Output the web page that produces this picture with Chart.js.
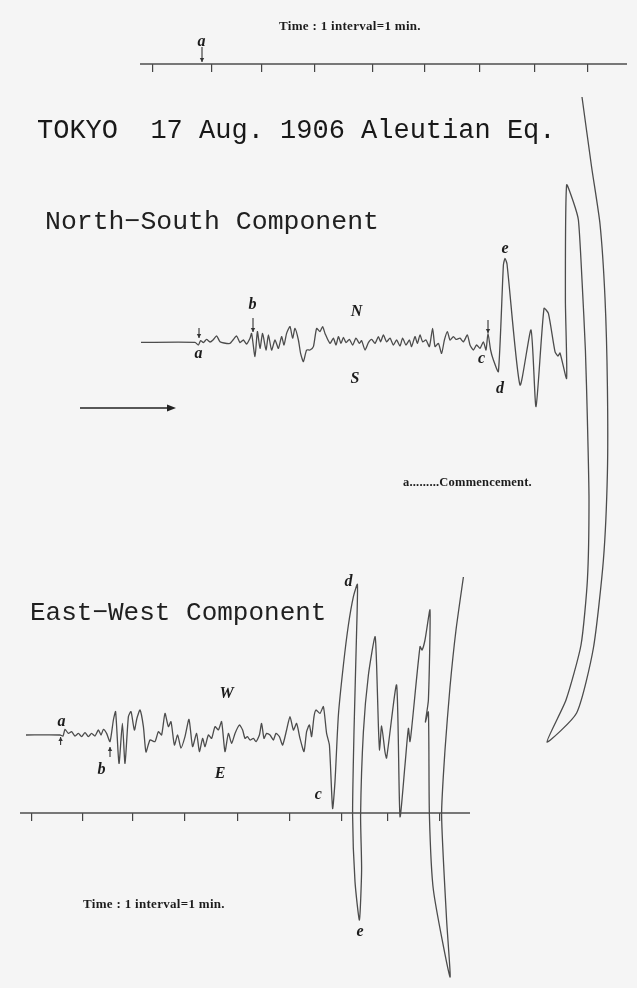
<!DOCTYPE html>
<html>
<head>
<meta charset="utf-8">
<title>Tokyo seismogram, 17 Aug. 1906 Aleutian earthquake</title>
<style>
  html, body { margin: 0; padding: 0; background: #f5f5f5; }
  #wrap { position: relative; width: 637px; height: 988px; }
  canvas { display: block; }
</style>
<script src="https://cdn.jsdelivr.net/npm/chart.js@4.4.1/dist/chart.umd.min.js"></script>
</head>
<body>
<div id="wrap"><canvas id="seismo" width="637" height="988"></canvas></div>
<script>
// Record distance along the drum (mm) and pen deflection (mm, + = N / W).

// North-South component
const NS_T = [
  -6, 21, 22.7, 23.8, 25.2, 26.8, 28.5, 30, 31.8, 33.5,
  35.5, 38.5, 40, 41.8, 43.5, 45.2, 46.8, 48.5, 49.3, 51,
  52.2, 53.5, 54.8, 56.5, 57.7, 59.3, 61, 62.7, 64.3, 65.5,
  66.8, 68.5, 69.8, 71, 72.7, 73.8, 75.2, 76.8, 78.5, 80.2,
  81.8, 83.5, 84.8, 86, 88.5, 90.2, 91.5, 92.7, 94, 95.2,
  96.5, 98.2, 99.8, 101.5, 103.2, 104.3, 106, 107.7, 109.3, 111,
  112.7, 113.8, 115.2, 116.8, 118.5, 120.2, 121.8, 123.5, 124.8, 126.5,
  128.2, 129.3, 131, 132.2, 133.5, 134.8, 136.5, 138.2, 139.8, 141,
  142.7, 144.3, 145.7, 147.2, 148.5, 150.2, 151.5, 153.5, 155.2, 157.2,
  158.5, 160.2, 161.8, 163.5, 165.2, 166.5, 167.5, 168.8, 170.2, 172.7,
  175.2, 176, 177, 183.5, 189, 191.5, 195.5, 197.7, 201, 202.5,
  203.5, 206.8, 206.2, 206.8, 210.2, 212.7, 214.5, 216.2, 217.2, 218,
  217.2, 214, 206.5, 197, 211.8, 220.2, 225.2, 227.2, 227.2, 226,
  223.5, 219.3, 214.5
];
const NS_D = [
  0.3, 0.3, -1, 1.2, 0.2, 1.8, 0.5, 1.5, 3.6, 0.6,
  0, -0.2, 1.5, 3.5, 0.2, 1.5, -0.5, 2.4, 4.8, -6.8,
  5.7, -2.7, 4.8, -3.5, 4, -3.5, 1.5, -2.7, 3.2, -1,
  4.8, 8.2, 2.4, 7.3, 1.5, -5.2, -9.3, -3.5, -3.5, -1.8,
  7.3, 5.7, 8.2, 4.8, -0.2, 2.4, -1, 3.2, -0.2, 2.8,
  0.2, 1.8, -1, 2.4, -0.2, 1.2, -3.5, 0.2, 1.8, -0.2,
  3.2, 0.6, 4, 0.6, 2.4, -1, 1.5, -1.5, 2.4, -1,
  1.5, -1.8, 3.2, -0.2, 4, 0.6, 1.5, -1.8, 7.3, -1.8,
  -0.2, -5.2, 1.5, 5.7, 1.5, 3.2, 1.8, 2.4, 0.6, 4,
  -1, -3.5, -1, -2.7, 0.6, -3.5, 4.8, -3.5, -8.5, -14.3,
  39, 42.3, 39.5, -21, 6.5, -31.8, 17.3, 14.8, -4.3, -6.5,
  -5, -17.7, 21.5, 79, 70.5, 61.5, 31.5, -3.5, -38.5, -78.5,
  -118.5, -151, -178.5, -199.5, -185, -152.5, -108.5, -65, -21.5, 22.5,
  59.5, 88, 123
];

// East-West component
const EW_T = [
  -3, 14, 15.5, 16.5, 18.2, 19.8, 21.5, 23.2, 24.8, 26.5,
  28.2, 29.8, 31.5, 33.2, 34.5, 35.7, 37.3, 39, 40.7, 41.8,
  43.5, 45.2, 46.5, 48.2, 49.5, 51.2, 52.5, 54, 55.7, 57,
  59, 61.5, 63.2, 64.8, 66.5, 68.2, 69.5, 71.2, 72.8, 74.5,
  76.5, 78.5, 80.3, 82.3, 83.7, 85.3, 86.5, 88.2, 89.8, 91.5,
  93.2, 94.8, 96.5, 98.2, 99.8, 101.5, 103.7, 105.3, 106.5, 107.7,
  109, 110.7, 112, 113.7, 114.8, 116, 117.3, 119, 120.7, 122,
  123.7, 125.3, 127.3, 129, 130.7, 132.3, 134, 136, 137.3, 138.7,
  139.8, 141, 142, 144, 145.7, 147.3, 148.7, 150.3, 151.5, 153.2,
  155.7, 158.2, 160.7, 162.7, 162.3, 161, 160.3, 161.5, 163.7, 164.8,
  164.3, 165.7, 168.2, 171.5, 172.3, 173.2, 173.8, 174.8, 176.5, 177.3,
  182.3, 184, 186.5, 188.2, 189, 190, 194, 195, 196.5, 199,
  198.2, 196.7, 198.2, 198.7, 200.7, 209, 207.3, 204.8, 206.5, 209,
  212, 215.7
];
const EW_D = [
  0, 0, -0.5, 2.8, 0.8, 1.7, -0.5, 0.8, -0.8, 1.2,
  -0.8, 0.8, -0.5, 2.5, 0, 2.8, 0.8, -3.3, 7.5, 11.7,
  -14.2, 5.8, -14.2, 9.2, 11.7, 2.5, 8.5, 12.5, 4.2, -8.5,
  -2.5, -3.3, 1.7, 0, 10.8, 4.2, 6.7, -5, 0, -6.5,
  -0.8, 7.8, -5.8, 0.8, -8.3, -1.7, -5.8, 0, -1.7, 4.2,
  2.5, 6.7, -8.3, 0.8, -4.2, 0.8, 5, 2.5, -1.7, -0.8,
  -2.5, -1.7, -3.3, 0, 5.8, -1.7, 0.8, 0, -2.5, 0.8,
  -0.8, -5, 2.5, 9.2, 2.5, 5.8, -1.7, -8.3, 1.7, 5,
  -0.8, 9.2, 12.5, 10.8, 14.2, 0.8, -5, -36.7, -23.3, 10,
  35, 55, 69.2, 75.3, 51.7, 1.7, -40, -73.3, -92.5, -67.5,
  -40, 1.7, 30, 49.2, 35, 4.2, -7.5, 4.5, -8.5, -11.5,
  25, -40.8, -15, 3.3, -3.3, 5, 44.2, 42.5, 47.5, 62.5,
  17.5, 6.5, 11.5, -40, -77.5, -121, -92.5, -40, -7.5, 24,
  52.5, 79
];

// Minute marks on the two time bases (mm along the record)
const NS_MINUTE_MARKS = [0, 29.5, 54.5, 81, 110, 136, 163.5, 191, 217.5];
const EW_MINUTE_MARKS = [0, 25.5, 50.5, 76.5, 103, 129, 155, 178, 204];

// Extent and level of the time-base lines
const NS_BASE_T = [-6.5, 237];
const NS_BASE_LEVEL = 139.5;
const EW_BASE_T = [-6, 219];
const EW_BASE_LEVEL = -39;

const INK = '#4c4c4c';
const TEXT = '#1c1c1c';

const pts = (ts, ds) => ts.map((t, i) => ({ x: t, y: ds[i] }));

// Labels, phase letters and arrows, placed in record coordinates
const LABELS = [
  { on: 'NS', t: -58, d: 102.5, text: 'TOKYO  17 Aug. 1906 Aleutian Eq.', font: '27px "Liberation Mono"', align: 'left', base: 'alphabetic', color: '#181818' },
  { on: 'NS', t: -54, d: 57, text: 'North\u2212South Component', font: '26.5px "Liberation Mono"', align: 'left', base: 'alphabetic', color: '#202020' },
  { on: 'EW', t: -1, d: 57.5, text: 'East\u2212West Component', font: '26px "Liberation Mono"', align: 'left', base: 'alphabetic', color: '#202020' },
  { on: 'NS', t: 98.5, d: 158, text: 'Time : 1 interval=1 min.', font: 'bold 13px "Liberation Serif"', align: 'center', base: 'middle', spacing: '0.3px' },
  { on: 'EW', t: 61, d: -85, text: 'Time : 1 interval=1 min.', font: 'bold 13px "Liberation Serif"', align: 'center', base: 'middle', spacing: '0.3px' },
  { on: 'NS', t: 125, d: -70, text: 'a.........Commencement.', font: 'bold 12.5px "Liberation Serif"', align: 'left', base: 'middle', spacing: '0.2px' },
  { on: 'NS', t: 24.3, d: 150.7, text: 'a', letter: true },
  { on: 'NS', t: 22.7, d: -5.2, text: 'a', letter: true },
  { on: 'NS', t: 49.8, d: 19, text: 'b', letter: true },
  { on: 'NS', t: 101.8, d: 15.7, text: 'N', letter: true },
  { on: 'NS', t: 101, d: -17.7, text: 'S', letter: true },
  { on: 'NS', t: 164.3, d: -7.7, text: 'c', letter: true },
  { on: 'NS', t: 173.5, d: -22.7, text: 'd', letter: true },
  { on: 'NS', t: 176, d: 47.3, text: 'e', letter: true },
  { on: 'EW', t: 14.8, d: 6.7, text: 'a', letter: true },
  { on: 'EW', t: 34.8, d: -17.5, text: 'b', letter: true },
  { on: 'EW', t: 97.3, d: 20.8, text: 'W', letter: true },
  { on: 'EW', t: 94, d: -19.2, text: 'E', letter: true },
  { on: 'EW', t: 143.2, d: -30, text: 'c', letter: true },
  { on: 'EW', t: 158.2, d: 76.7, text: 'd', letter: true },
  { on: 'EW', t: 164, d: -98.3, text: 'e', letter: true }
];
const ARROWS = [
  { on: 'NS', t: 24.5, from: 148, to: 140.5, head: 4 },
  { on: 'NS', t: 23, from: 7.5, to: 2.5, head: 4 },
  { on: 'NS', t: 50, from: 12.5, to: 5.5, head: 4 },
  { on: 'NS', t: 167.5, from: 11.5, to: 5, head: 4 },
  { on: 'EW', t: 14.3, from: -5, to: -1, head: 4 },
  { on: 'EW', t: 39, from: -11, to: -6, head: 4 }
];
const DIRECTION_ARROW = { on: 'NS', from: -36.5, to: 11.5, d: -32.5 };

const annotate = {
  id: 'annotate',
  afterDatasetsDraw(chart) {
    const { ctx, scales } = chart;
    const px = (on, t, d) => on === 'NS'
      ? [scales.tNS.getPixelForValue(t), scales.dNS.getPixelForValue(d)]
      : [scales.tEW.getPixelForValue(t), scales.dEW.getPixelForValue(d)];
    ctx.save();
    LABELS.forEach(l => {
      const [x, y] = px(l.on, l.t, l.d);
      ctx.fillStyle = l.color || TEXT;
      ctx.letterSpacing = l.spacing || '0px';
      if (l.letter) {
        ctx.font = 'bold italic 16px "Liberation Serif"';
        ctx.textAlign = 'center';
        ctx.textBaseline = 'middle';
      } else {
        ctx.font = l.font;
        ctx.textAlign = l.align;
        ctx.textBaseline = l.base;
      }
      ctx.fillText(l.text, x, y);
    });
    ctx.letterSpacing = '0px';

    ctx.strokeStyle = '#333';
    ctx.fillStyle = '#333';
    ctx.lineWidth = 1.1;
    ARROWS.forEach(a => {
      const [x, y1] = px(a.on, a.t, a.from);
      const [, y2] = px(a.on, a.t, a.to);
      const dir = Math.sign(y2 - y1);
      ctx.beginPath();
      ctx.moveTo(x, y1);
      ctx.lineTo(x, y2);
      ctx.stroke();
      ctx.beginPath();
      ctx.moveTo(x, y2);
      ctx.lineTo(x - 2.2, y2 - dir * a.head);
      ctx.lineTo(x + 2.2, y2 - dir * a.head);
      ctx.closePath();
      ctx.fill();
    });

    const [ax1, ay] = px(DIRECTION_ARROW.on, DIRECTION_ARROW.from, DIRECTION_ARROW.d);
    const [ax2] = px(DIRECTION_ARROW.on, DIRECTION_ARROW.to, DIRECTION_ARROW.d);
    ctx.strokeStyle = '#222';
    ctx.fillStyle = '#222';
    ctx.lineWidth = 1.6;
    ctx.beginPath();
    ctx.moveTo(ax1, ay);
    ctx.lineTo(ax2 - 6, ay);
    ctx.stroke();
    ctx.beginPath();
    ctx.moveTo(ax2, ay);
    ctx.lineTo(ax2 - 9, ay - 3.5);
    ctx.lineTo(ax2 - 9, ay + 3.5);
    ctx.closePath();
    ctx.fill();
    ctx.restore();
  }
};

const timeAxis = (min, max, marks, level, levelAxis) => ({
  type: 'linear', axis: 'x', min, max,
  position: { [levelAxis]: level },
  afterBuildTicks: s => { s.ticks = marks.map(v => ({ value: v })); },
  grid: { drawOnChartArea: false, drawTicks: true, tickLength: 8, color: '#444', lineWidth: 1.2 },
  border: { display: false },
  ticks: { display: false, autoSkip: false }
});

const trace = (label, data, xAxisID, yAxisID, width, tension) => ({
  label, data, xAxisID, yAxisID, showLine: true, fill: false,
  borderColor: INK, borderWidth: width, pointRadius: 0, tension
});

new Chart(document.getElementById('seismo'), {
  type: 'scatter',
  data: {
    datasets: [
      trace('North\u2212South', pts(NS_T, NS_D), 'tNS', 'dNS', 1.3, 0.2),
      trace('East\u2212West', pts(EW_T, EW_D), 'tEW', 'dEW', 1.3, 0.2),
      trace('NS time base', pts(NS_BASE_T, [NS_BASE_LEVEL, NS_BASE_LEVEL]), 'tNS', 'dNS', 1.3, 0),
      trace('EW time base', pts(EW_BASE_T, [EW_BASE_LEVEL, EW_BASE_LEVEL]), 'tEW', 'dEW', 1.3, 0)
    ]
  },
  options: {
    responsive: false,
    animation: false,
    devicePixelRatio: 1,
    events: [],
    layout: { padding: 0 },
    plugins: { legend: { display: false }, tooltip: { enabled: false }, title: { display: false } },
    scales: {
      tNS: timeAxis(-76.5, 242, NS_MINUTE_MARKS, NS_BASE_LEVEL, 'dNS'),
      dNS: { type: 'linear', axis: 'y', min: -322.5, max: 171.5, display: false },
      tEW: timeAxis(-16, 302.5, EW_MINUTE_MARKS, EW_BASE_LEVEL, 'dEW'),
      dEW: { type: 'linear', axis: 'y', min: -126.5, max: 367.5, display: false }
    }
  },
  plugins: [annotate]
});
</script>
</body>
</html>
